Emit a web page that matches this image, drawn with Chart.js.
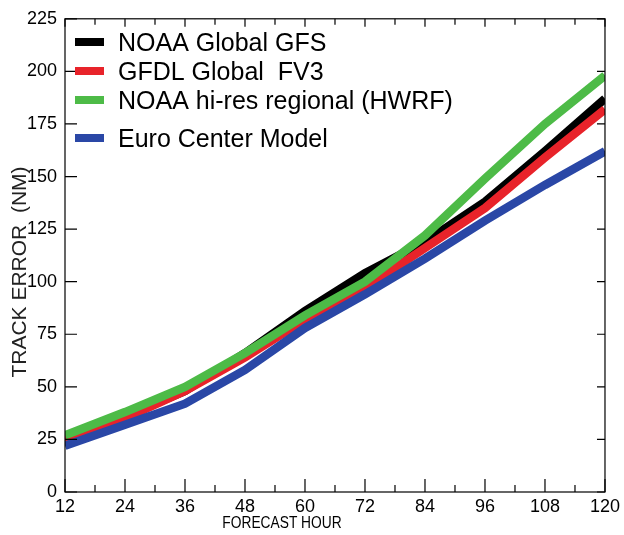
<!DOCTYPE html>
<html>
<head>
<meta charset="utf-8">
<script src="https://cdn.jsdelivr.net/npm/chart.js@4/dist/chart.umd.min.js"></script>
<style>
html,body{margin:0;padding:0;background:#fff;}
#wrap{width:624px;height:535px;position:relative;}
</style>
</head>
<body>
<div id="wrap"><canvas id="track_chart"></canvas></div>
<script>
const hours = [12, 24, 36, 48, 60, 72, 84, 96, 108, 120];
const gfs   = [25, 36, 48, 66, 86, 104, 119, 138, 162, 187];
const fv3   = [25, 35, 48, 64, 82, 97, 116, 135, 159, 182];
const hwrf  = [27, 38, 50, 66, 84, 100, 122, 149, 175, 198];
const euro  = [22, 32, 42, 58, 78, 94, 111, 129, 146, 162];
const names = ['NOAA Global GFS', 'GFDL Global  FV3', 'NOAA hi-res regional (HWRF)', 'Euro Center Model'];
const colors = ['#000000', '#e8232a', '#4dbb47', '#2a47a6'];
const xTitle = 'FORECAST HOUR';
const yTitle = 'TRACK ERROR  (NM)';

const FONT = '"Liberation Sans", Arial, sans-serif';

const pairs = (vals) => hours.map((h, i) => ({x: h, y: vals[i]}));

// box, inward ticks, titles and legend
const frame = {
  id: 'frame',
  afterDraw(chart) {
    const {ctx, chartArea: a, scales: {x, y}} = chart;
    ctx.save();
    ctx.strokeStyle = '#000';
    ctx.lineWidth = 1.2;
    ctx.strokeRect(a.left, a.top, a.right - a.left, a.bottom - a.top);
    ctx.beginPath();
    for (let h = 12; h <= 120; h += 6) {
      const px = x.getPixelForValue(h);
      const major = h % 12 === 0;
      ctx.moveTo(px, a.bottom); ctx.lineTo(px, a.bottom - (major ? 13 : 7));
      ctx.moveTo(px, a.top); ctx.lineTo(px, a.top + (major ? 8 : 6));
    }
    y.ticks.forEach(t => {
      const py = y.getPixelForValue(t.value);
      ctx.moveTo(a.left, py); ctx.lineTo(a.left + 12, py);
      ctx.moveTo(a.right, py); ctx.lineTo(a.right - 8, py);
    });
    ctx.stroke();

    ctx.fillStyle = '#000';
    ctx.textAlign = 'center';
    ctx.textBaseline = 'middle';
    ctx.save();
    ctx.translate(282, 524);
    ctx.scale(0.86, 1);
    ctx.font = '16px ' + FONT;
    ctx.fillText(xTitle, 0, 0);
    ctx.restore();

    ctx.save();
    ctx.translate(20, 272);
    ctx.rotate(-Math.PI / 2);
    ctx.font = '21px ' + FONT;
    ctx.fillStyle = '#222';
    ctx.fillText(yTitle, 0, 0);
    ctx.restore();

    const rows = [42, 71, 100, 138];
    ctx.font = '25px ' + FONT;
    ctx.textAlign = 'left';
    chart.data.datasets.forEach((ds, i) => {
      ctx.fillStyle = ds.borderColor;
      ctx.fillRect(75, rows[i] - 4, 29, 8);
      ctx.fillStyle = '#000';
      ctx.fillText(ds.label, 118, rows[i] + 2);
    });
    ctx.restore();
  }
};

const ctx = document.getElementById('track_chart');
const series = [gfs, fv3, hwrf, euro];
const drawOrder = [3, 2, 0, 1];

new Chart(ctx, {
  type: 'line',
  data: {
    datasets: series.map((vals, i) => ({
      label: names[i],
      data: pairs(vals),
      borderColor: colors[i],
      backgroundColor: colors[i],
      borderWidth: 8.5,
      pointRadius: 0,
      tension: 0,
      clip: 0,
      order: drawOrder[i]
    }))
  },
  options: {
    responsive: true,
    maintainAspectRatio: false,
    animation: false,
    layout: {padding: {top: 17, right: 15, left: 0, bottom: 0}},
    plugins: {
      legend: {display: false},
      tooltip: {enabled: false}
    },
    scales: {
      x: {
        type: 'linear',
        min: 12, max: 120,
        afterFit: (s) => { s.height = 43; },
        grid: {display: false, drawTicks: false},
        border: {display: false},
        ticks: {stepSize: 12, padding: 4, color: '#000', font: {family: FONT, size: 18}}
      },
      y: {
        min: 0, max: 225,
        afterFit: (s) => { s.width = 65; },
        grid: {display: false, drawTicks: false},
        border: {display: false},
        ticks: {stepSize: 25, padding: 8, color: '#000', font: {family: FONT, size: 18}}
      }
    }
  },
  plugins: [frame]
});
</script>
</body>
</html>
